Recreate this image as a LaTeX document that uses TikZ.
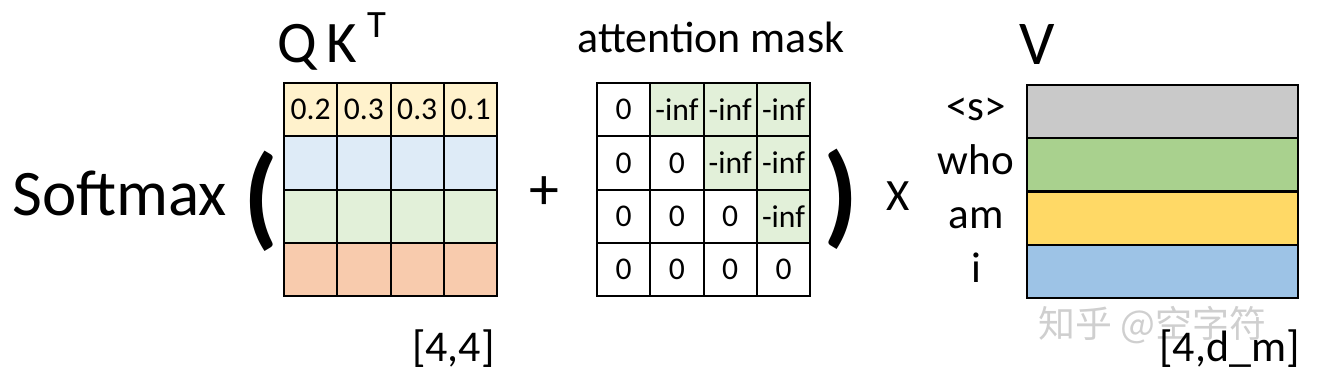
\documentclass[tikz,border=0pt]{standalone}
\usepackage{fontspec}
\setmainfont{Carlito}
\newfontfamily\cjkfont{Noto Sans CJK SC}
\usetikzlibrary{positioning}
\definecolor{qkyellow}{HTML}{FFF2CC}
\definecolor{qkblue}{HTML}{DEEBF7}
\definecolor{qkgreen}{HTML}{E2F0D9}
\definecolor{qkpeach}{HTML}{F8CBAD}
\definecolor{maskgreen}{HTML}{E2F0D9}
\definecolor{vgray}{HTML}{C9C9C9}
\definecolor{vgreen}{HTML}{A9D18E}
\definecolor{vyellow}{HTML}{FFD966}
\definecolor{vblue}{HTML}{9DC3E6}
\definecolor{wmgray}{HTML}{CFCFCF}

\begin{document}
\begin{tikzpicture}[
    x=0.02cm, y=-0.02cm,
    cell/.style={
        draw=black, line width=1.2pt, minimum width=1.066cm,
        minimum height=1.066cm, inner sep=0pt,
        font=\fontsize{18}{18}\selectfont
    },
    vrow/.style={
        draw=black, line width=1.2pt, minimum width=5.42cm,
        minimum height=1.066cm, inner sep=0pt
    },
    title/.style={inner sep=0pt, font=\fontsize{25}{25}\selectfont},
    bigtext/.style={inner sep=0pt, font=\fontsize{37}{37}\selectfont},
    paren/.style={inner sep=0pt, font=\bfseries\fontsize{64}{64}\selectfont},
    rowlbl/.style={inner sep=0pt, anchor=base, font=\fontsize{24.5}{24.5}\selectfont},
]
\useasboundingbox (0,0) rectangle (1318,384);

% ---- watermark (behind everything) ----
\node[anchor=west, inner sep=0pt, text=wmgray, font=\cjkfont\fontsize{21}{21}\selectfont]
    (watermark) at (1038, 325) {知乎 @空字符};

% ---- softmax and brackets ----
\node[bigtext, anchor=base west] (softmax) at (12, 216) {Softmax};
\node[paren] (lparen) at (261, 201) {(};
\node[paren] (rparen) at (841, 199) {)};
\node[inner sep=0pt, font=\fontsize{34}{34}\selectfont] (plus) at (544, 193) {+};
\node[title, font=\fontsize{25.5}{25.5}\selectfont] (times) at (898, 196) {X};

% ---- Q K^T scores ----
\node[inner sep=0pt, anchor=base west, font=\fontsize{33.5}{33.5}\selectfont] (qklabel) at (277, 63)
    {Q\,K\,\raisebox{0.5cm}{\fontsize{22}{22}\selectfont T}};
\foreach \c/\v in {1/0.2, 2/0.3, 3/0.3, 4/0.1}
    \node[cell, fill=qkyellow] (qk-1-\c) at ({310.65+53.3*(\c-1)}, 109.65) {\v};
\foreach \r/\col in {2/qkblue, 3/qkgreen, 4/qkpeach}
    \foreach \c in {1,...,4}
        \node[cell, fill=\col] (qk-\r-\c) at ({310.65+53.3*(\c-1)}, {109.65+53.3*(\r-1)}) {};
\node[title, anchor=base east] (qksize) at (495, 362) {[4,4]};

% ---- attention mask ----
\node[title, anchor=base] (masklabel) at (711, 53) {attention mask};
\foreach \r in {1,...,4}
    \foreach \c in {1,...,4} {
        \ifnum\c>\r
            \node[cell, fill=maskgreen] (mask-\r-\c) at ({623.65+53.3*(\c-1)}, {109.65+53.3*(\r-1)}) {-inf};
        \else
            \node[cell] (mask-\r-\c) at ({623.65+53.3*(\c-1)}, {109.65+53.3*(\r-1)}) {0};
        \fi
    }

% ---- V rows ----
\node[inner sep=0pt, anchor=base, font=\fontsize{35.5}{35.5}\selectfont] (vlabel) at (1037, 65) {V};
\foreach \r/\col/\w in {1/vgray/<s>, 2/vgreen/who, 3/vyellow/am, 4/vblue/i} {
    \node[vrow, fill=\col] (v-\r) at (1162.5, {111.6+53.3*(\r-1)}) {};
    \node[rowlbl] (word-\r) at (976, {121+53.8*(\r-1)}) {\w};
}
\node[title, anchor=base east] (vsize) at (1300, 362) {[4,d\_m]};

\end{tikzpicture}
\end{document}
